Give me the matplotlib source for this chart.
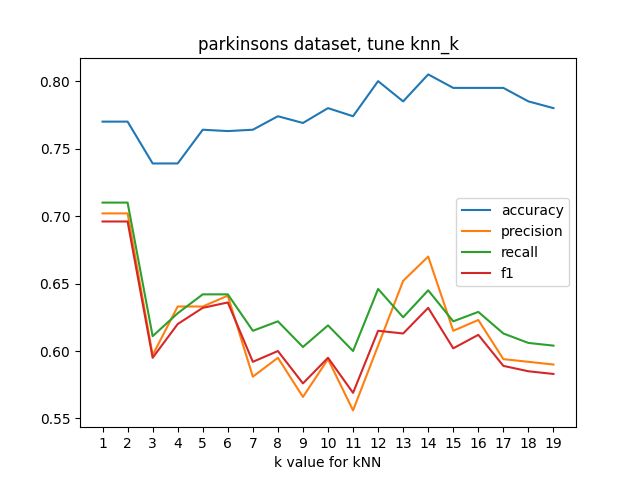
import matplotlib
matplotlib.use("Agg")
import matplotlib.pyplot as plt

k = list(range(1, 20))
accuracy = [0.770,0.770,0.739,0.739,0.764,0.763,0.764,0.774,0.769,0.780,0.774,0.800,0.785,0.805,0.795,0.795,0.795,0.785,0.780]
precision = [0.702,0.702,0.597,0.633,0.633,0.641,0.581,0.595,0.566,0.594,0.556,0.604,0.652,0.670,0.615,0.623,0.594,0.592,0.590]
recall = [0.710,0.710,0.611,0.628,0.642,0.642,0.615,0.622,0.603,0.619,0.600,0.646,0.625,0.645,0.622,0.629,0.613,0.606,0.604]
f1 = [0.696,0.696,0.595,0.620,0.632,0.636,0.592,0.600,0.576,0.595,0.569,0.615,0.613,0.632,0.602,0.612,0.589,0.585,0.583]

fig, ax = plt.subplots(figsize=(6.4, 4.8), dpi=100)
ax.plot(k, accuracy, label="accuracy")
ax.plot(k, precision, label="precision")
ax.plot(k, recall, label="recall")
ax.plot(k, f1, label="f1")
ax.set_xticks(k)
ax.set_xlabel("k value for kNN")
ax.set_title("parkinsons dataset, tune knn_k")
ax.legend(loc="center right")
fig.savefig("out.png")
